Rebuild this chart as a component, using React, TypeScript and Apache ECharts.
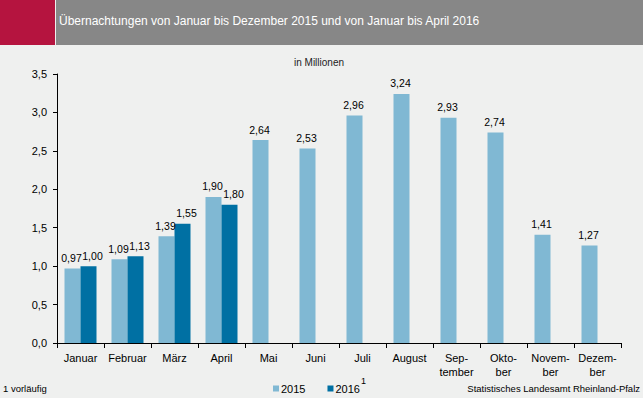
import React, { useEffect, useRef } from "react";
import * as echarts from "echarts";

const categories = ["Januar", "Februar", "März", "April", "Mai", "Juni", "Juli", "August", "Sep-\ntember", "Okto-\nber", "Novem-\nber", "Dezem-\nber"];
const values2015 = [0.97, 1.09, 1.39, 1.9, 2.64, 2.53, 2.96, 3.24, 2.93, 2.74, 1.41, 1.27];
const values2016 = [1.0, 1.13, 1.55, 1.8, null, null, null, null, null, null, null, null];
const yTicks = { min: 0, max: 3.5, interval: 0.5 };

const FONT = "'Liberation Sans', Arial, sans-serif";

export default function App() {
  const ref = useRef<HTMLDivElement>(null);
  useEffect(() => {
    if (!ref.current) return;
    const chart = echarts.init(ref.current, null, { renderer: "svg" });
    const fmt2 = (p: any) => (p.value == null ? "" : Number(p.value).toFixed(2).replace(".", ","));
    chart.setOption({
      animation: false,
      backgroundColor: "#eff0ef",
      textStyle: { fontFamily: FONT },
      grid: { left: 57, right: 22, top: 74, bottom: 55, containLabel: false },
      legend: {
        left: 268,
        top: 378,
        itemWidth: 6,
        itemHeight: 6,
        itemGap: 22,
        icon: "rect",
        textStyle: { fontSize: 11, color: "#000", fontFamily: FONT, padding: [0, 0, 0, -3] },
        data: ["2015", "2016"],
      },
      xAxis: {
        type: "category",
        data: categories,
        axisLine: { lineStyle: { color: "#000", width: 1 } },
        axisTick: { show: true, length: 5, lineStyle: { color: "#000" } },
        axisLabel: { color: "#000", fontSize: 11, margin: 8, lineHeight: 14, interval: 0, fontFamily: FONT },
      },
      yAxis: {
        type: "value",
        min: yTicks.min,
        max: yTicks.max,
        interval: yTicks.interval,
        splitLine: { show: false },
        axisLine: { show: true, lineStyle: { color: "#000", width: 1 } },
        axisTick: { show: true, length: 4, lineStyle: { color: "#000" } },
        axisLabel: {
          color: "#000",
          fontSize: 11,
          margin: 10,
          fontFamily: FONT,
          formatter: (v: number) => v.toFixed(1).replace(".", ","),
        },
      },
      series: [
        {
          name: "2015",
          type: "bar",
          data: values2015,
          barWidth: 16,
          barGap: "0%",
          itemStyle: { color: "#80b8d3" },
          label: { show: true, position: "top", distance: 5, offset: [-1, 0], color: "#000", fontSize: 10.5, fontFamily: FONT, formatter: fmt2 },
        },
        {
          name: "2016",
          type: "bar",
          data: values2016,
          barWidth: 16,
          barGap: "0%",
          itemStyle: { color: "#0070a3" },
          label: { show: true, position: "top", distance: 5, offset: [4, 0], color: "#000", fontSize: 10.5, fontFamily: FONT, formatter: fmt2 },
        },
      ],
      graphic: [
        { type: "rect", left: 0, top: 0, shape: { width: 55, height: 45 }, style: { fill: "#b5143f" } },
        { type: "rect", left: 56, top: 0, shape: { width: 587, height: 45 }, style: { fill: "#878787" } },
        {
          type: "text",
          left: 59,
          top: 15,
          style: { text: "Übernachtungen von Januar bis Dezember 2015 und von Januar bis April 2016", fill: "#fff", fontSize: 12, fontFamily: FONT },
        },
        {
          type: "text",
          left: 294,
          top: 57,
          style: { text: "in Millionen", fill: "#222", fontSize: 10, fontFamily: FONT },
        },
        {
          type: "text",
          left: 361,
          top: 376,
          style: { text: "1", fill: "#000", fontSize: 9, fontFamily: FONT },
        },
        {
          type: "text",
          left: 3,
          top: 383,
          style: { text: "1 vorläufig", fill: "#000", fontSize: 9.5, fontFamily: FONT },
        },
        {
          type: "text",
          right: 3,
          top: 383,
          style: { text: "Statistisches Landesamt Rheinland-Pfalz", fill: "#000", fontSize: 9.5, fontFamily: FONT },
        },
      ],
    });
    return () => chart.dispose();
  }, []);
  return <div ref={ref} style={{ position: "absolute", left: 0, top: 0, width: 643, height: 398 }} />;
}
